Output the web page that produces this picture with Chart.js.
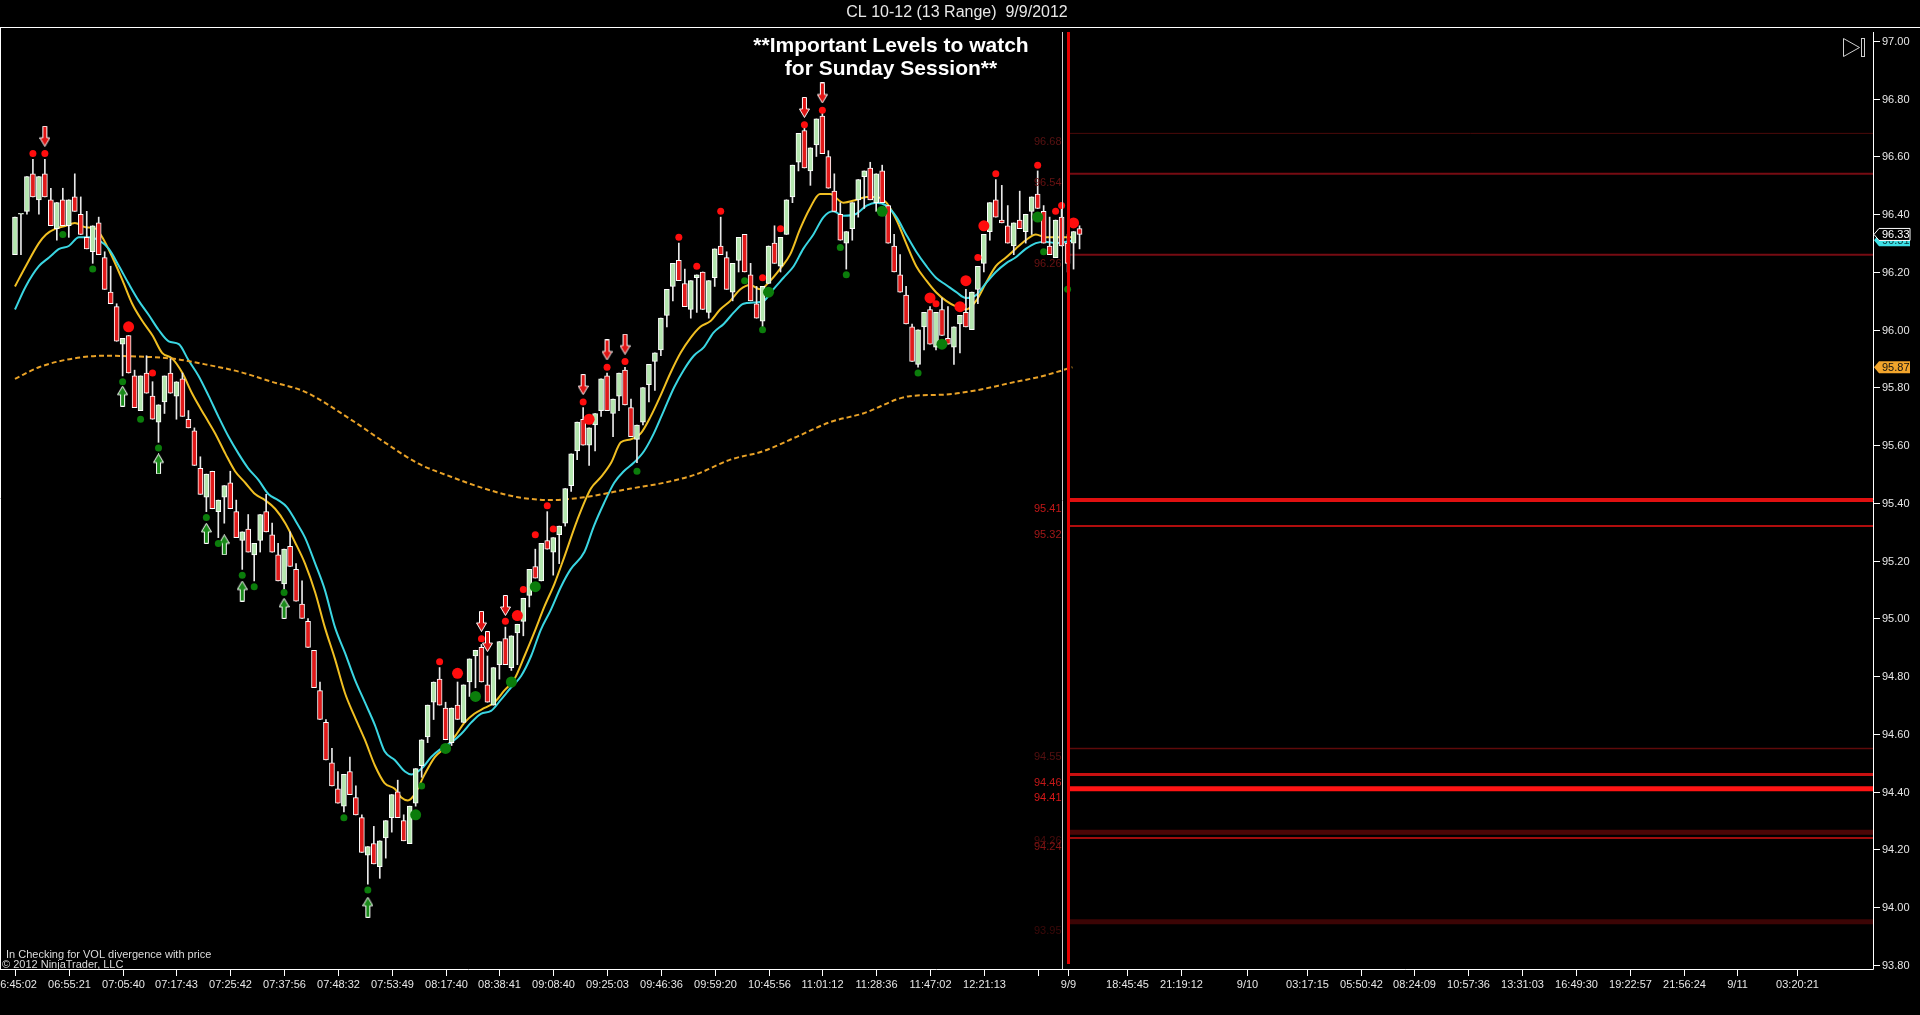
<!DOCTYPE html>
<html lang="en">
<head>
  <meta charset="UTF-8" />
  <title>CL 10-12 (13 Range) 9/9/2012</title>
  <script src="https://cdn.jsdelivr.net/npm/chart.js"></script>
  <style>
    html, body {
      margin: 0;
      padding: 0;
      background: #000;
      overflow: hidden;
    }
    canvas {
      display: block;
    }
  </style>
</head>
<body>
  <canvas id="rangeChart" width="1920" height="1015"></canvas>

  <script>
    // --- candles, one per 13-tick range bar (index = bar number) ---
    const opens = [96.26,96.40,96.41,96.54,96.45,96.54,96.45,96.35,96.45,96.36,
      96.46,96.40,96.32,96.27,96.37,96.25,96.13,96.08,95.95,95.98,
      95.84,95.72,95.85,95.77,95.68,95.75,95.85,95.77,95.83,95.69,
      95.65,95.52,95.42,95.51,95.37,95.42,95.47,95.37,95.27,95.31,
      95.22,95.27,95.37,95.29,95.22,95.12,95.25,95.17,95.05,94.99,
      94.89,94.75,94.64,94.50,94.41,94.35,94.47,94.38,94.31,94.18,
      94.22,94.14,94.24,94.31,94.40,94.30,94.22,94.36,94.49,94.59,
      94.71,94.79,94.69,94.57,94.70,94.64,94.78,94.87,94.90,94.77,
      94.70,94.84,94.93,94.83,94.95,94.99,95.08,95.18,95.13,95.27,
      95.23,95.29,95.33,95.46,95.58,95.69,95.60,95.67,95.72,95.84,
      95.71,95.77,95.86,95.73,95.62,95.68,95.81,95.89,95.93,96.05,
      96.15,96.24,96.16,96.07,96.18,96.20,96.06,96.18,96.29,96.25,
      96.13,96.24,96.33,96.19,96.09,96.03,96.16,96.30,96.22,96.33,
      96.46,96.58,96.69,96.55,96.64,96.74,96.60,96.48,96.40,96.30,
      96.35,96.45,96.53,96.56,96.44,96.55,96.43,96.29,96.19,96.12,
      96.01,95.88,96.01,96.07,95.94,96.07,95.97,95.94,96.02,96.06,
      96.00,96.14,96.23,96.34,96.45,96.38,96.36,96.29,96.38,96.34,
      96.41,96.47,96.41,96.29,96.25,96.39,96.30,96.30,96.35];
    const highs = [96.39,96.40,96.53,96.59,96.53,96.59,96.49,96.44,96.49,96.45,
      96.54,96.46,96.41,96.36,96.39,96.27,96.22,96.09,95.97,95.98,
      95.86,95.84,95.91,95.82,95.74,95.84,95.90,95.82,95.85,95.72,
      95.66,95.56,95.50,95.51,95.41,95.46,95.51,95.41,95.30,95.36,
      95.26,95.36,95.43,95.33,95.26,95.24,95.30,95.19,95.13,95.00,
      94.89,94.78,94.65,94.55,94.47,94.46,94.52,94.42,94.32,94.21,
      94.28,94.23,94.30,94.39,94.44,94.32,94.35,94.48,94.58,94.70,
      94.78,94.83,94.71,94.69,94.78,94.77,94.86,94.89,94.91,94.87,
      94.83,94.92,94.97,94.94,94.98,95.07,95.17,95.24,95.26,95.37,
      95.28,95.32,95.45,95.57,95.68,95.73,95.66,95.71,95.83,95.85,
      95.76,95.85,95.87,95.76,95.67,95.80,95.88,95.92,96.04,96.14,
      96.23,96.30,96.21,96.17,96.19,96.20,96.17,96.28,96.39,96.27,
      96.23,96.32,96.33,96.23,96.15,96.15,96.29,96.36,96.32,96.45,
      96.57,96.68,96.70,96.63,96.73,96.75,96.62,96.54,96.44,96.34,
      96.44,96.52,96.55,96.58,96.54,96.57,96.43,96.33,96.26,96.15,
      96.02,96.00,96.06,96.08,96.06,96.11,96.08,96.01,96.05,96.14,
      96.13,96.22,96.33,96.44,96.52,96.50,96.43,96.37,96.48,96.40,
      96.46,96.55,96.43,96.39,96.38,96.42,96.33,96.34,96.36];
    const lows = [96.26,96.26,96.40,96.46,96.40,96.46,96.36,96.31,96.36,96.32,
      96.41,96.33,96.28,96.23,96.26,96.14,96.09,95.96,95.84,95.85,
      95.73,95.72,95.78,95.69,95.61,95.71,95.78,95.69,95.70,95.66,
      95.53,95.43,95.37,95.38,95.28,95.33,95.38,95.28,95.17,95.23,
      95.13,95.23,95.30,95.23,95.13,95.10,95.18,95.06,95.00,94.90,
      94.76,94.65,94.51,94.42,94.36,94.33,94.39,94.32,94.19,94.08,
      94.15,94.10,94.17,94.26,94.31,94.23,94.22,94.35,94.45,94.57,
      94.65,94.70,94.58,94.56,94.65,94.64,94.73,94.76,94.78,94.71,
      94.70,94.79,94.84,94.82,94.84,94.94,95.04,95.14,95.13,95.24,
      95.15,95.19,95.32,95.44,95.55,95.60,95.53,95.58,95.70,95.72,
      95.63,95.72,95.74,95.63,95.54,95.67,95.75,95.79,95.91,96.01,
      96.10,96.17,96.08,96.04,96.06,96.07,96.04,96.15,96.26,96.14,
      96.10,96.20,96.20,96.10,96.04,96.01,96.16,96.23,96.20,96.33,
      96.44,96.55,96.56,96.50,96.60,96.61,96.49,96.41,96.31,96.21,
      96.31,96.39,96.42,96.45,96.41,96.44,96.30,96.20,96.13,96.02,
      95.89,95.87,95.93,95.95,95.93,95.98,95.95,95.88,95.92,96.01,
      96.00,96.09,96.20,96.31,96.39,96.37,96.30,96.26,96.35,96.30,
      96.33,96.42,96.30,96.26,96.25,96.29,96.20,96.21,96.28];
    const closes = [96.39,96.40,96.53,96.46,96.53,96.46,96.36,96.44,96.36,96.45,
      96.41,96.33,96.28,96.36,96.26,96.14,96.09,95.96,95.97,95.85,
      95.73,95.84,95.78,95.69,95.74,95.84,95.78,95.82,95.70,95.66,
      95.53,95.43,95.50,95.38,95.41,95.46,95.38,95.28,95.30,95.23,
      95.26,95.36,95.30,95.23,95.13,95.24,95.18,95.06,95.00,94.90,
      94.76,94.65,94.51,94.42,94.36,94.46,94.39,94.32,94.19,94.21,
      94.15,94.23,94.30,94.39,94.31,94.23,94.35,94.48,94.58,94.70,
      94.78,94.70,94.58,94.69,94.65,94.77,94.86,94.89,94.78,94.71,
      94.83,94.92,94.84,94.94,94.98,95.07,95.17,95.14,95.26,95.24,
      95.28,95.32,95.45,95.57,95.68,95.60,95.66,95.71,95.83,95.72,
      95.76,95.85,95.74,95.63,95.67,95.80,95.88,95.92,96.04,96.14,
      96.23,96.17,96.08,96.17,96.19,96.07,96.17,96.28,96.26,96.14,
      96.23,96.32,96.20,96.10,96.04,96.15,96.29,96.23,96.32,96.45,
      96.57,96.68,96.56,96.63,96.73,96.61,96.49,96.41,96.31,96.34,
      96.44,96.52,96.55,96.45,96.54,96.44,96.30,96.20,96.13,96.02,
      95.89,96.00,96.06,95.95,96.06,95.98,95.95,96.01,96.05,96.01,
      96.13,96.22,96.33,96.44,96.39,96.37,96.30,96.37,96.35,96.40,
      96.46,96.42,96.30,96.26,96.38,96.29,96.23,96.34,96.33];

    // --- moving averages, read as [bar, price] ---
    const fastMA = [[0,96.15],[1.8,96.22],[4,96.30],[5.2,96.33],[6.8,96.35],[8.5,96.36],[10,96.37],[11.8,96.355],
      [13.5,96.35],[14.6,96.32],[16.3,96.25],[18,96.17],[19.6,96.09],[21.3,96.03],[23,95.98],[24.6,95.92],
      [26.3,95.90],[28,95.85],[29.6,95.78],[31.8,95.70],[33.5,95.64],[35.2,95.57],[36.8,95.51],[38.5,95.47],
      [40.2,95.43],[41.8,95.41],[43.5,95.38],[45.2,95.33],[46.8,95.265],[48.5,95.19],[50.2,95.09],[51.8,94.97],
      [53.5,94.86],[55.2,94.74],[56.8,94.66],[58.5,94.58],[60.2,94.49],[61.8,94.43],[63.5,94.41],[64.6,94.38],
      [65.7,94.37],[66.8,94.39],[68.5,94.46],[70.2,94.52],[71.8,94.55],[73.5,94.59],[75.2,94.64],[76.8,94.67],
      [78.5,94.69],[80.2,94.71],[81.8,94.75],[83.5,94.79],[85.2,94.87],[86.8,94.95],[88.5,95.04],[90.2,95.12],
      [91.8,95.21],[94,95.34],[96.3,95.45],[98,95.49],[99.7,95.54],[101.3,95.61],[102.9,95.62],[104.6,95.64],
      [106.3,95.70],[107.9,95.77],[109.6,95.85],[111.3,95.92],[112.9,95.97],[114.6,96.01],[116.3,96.03],
      [117.9,96.07],[119.6,96.10],[121.3,96.14],[122.9,96.155],[124.6,96.14],[126.3,96.17],[127.9,96.21],
      [129.6,96.26],[131.3,96.35],[132.9,96.42],[134.6,96.47],[136.3,96.47],[138.5,96.44],[140.7,96.45],
      [142.4,96.46],[144,96.46],[145.7,96.44],[147.4,96.38],[149,96.30],[150.7,96.22],[152.4,96.17],[154,96.13],
      [155.7,96.10],[157.4,96.08],[159,96.07],[160.7,96.10],[162.3,96.16],[164,96.22],[165.7,96.25],
      [167.3,96.28],[169,96.31],[170.7,96.33],[172.3,96.32],[174,96.32],[177,96.32]];
    const slowMA = [[0,96.07],[1.8,96.15],[4,96.22],[5.7,96.25],[7.4,96.28],[9,96.29],[10.7,96.32],[12.4,96.32],
      [14,96.31],[15.7,96.28],[17.4,96.22],[19,96.16],[20.7,96.10],[22.4,96.05],[24,96.00],[25.7,95.96],
      [27.4,95.95],[29,95.895],[30.7,95.84],[32.4,95.77],[34,95.70],[35.7,95.63],[37.4,95.57],[39,95.52],
      [40.7,95.48],[42.4,95.43],[44,95.41],[45.5,95.385],[47,95.335],[48.5,95.28],[50.2,95.19],[51.8,95.10],
      [53.5,94.97],[55.2,94.88],[56.8,94.79],[58.5,94.71],[60.2,94.63],[61.8,94.54],[63.5,94.51],[65.2,94.47],
      [66.3,94.46],[68,94.48],[69.6,94.52],[71.3,94.55],[72.9,94.57],[74.6,94.60],[76.3,94.64],[77.9,94.67],
      [79.6,94.68],[81.3,94.72],[82.9,94.76],[84.6,94.80],[86.3,94.87],[87.9,94.96],[89.6,95.03],[91.3,95.11],
      [92.9,95.17],[95.2,95.23],[96.8,95.32],[98.5,95.40],[100.2,95.47],[101.8,95.51],[103.5,95.54],
      [105.2,95.58],[106.8,95.64],[108.5,95.72],[110.2,95.80],[111.8,95.86],[113.5,95.91],[115.2,95.94],
      [116.8,95.99],[118.5,96.02],[120.2,96.06],[121.8,96.09],[123.5,96.094],[125.2,96.10],[126.8,96.14],
      [128.5,96.18],[130.2,96.22],[131.8,96.28],[133.5,96.33],[135.2,96.39],[136.8,96.41],[138.5,96.395],
      [140.5,96.40],[142.4,96.43],[144,96.44],[145.7,96.43],[147.4,96.39],[149,96.33],[150.7,96.27],
      [152.4,96.22],[154,96.18],[155.7,96.155],[157.4,96.13],[159,96.11],[160.7,96.12],[162.3,96.16],
      [164,96.20],[165.7,96.23],[167.3,96.25],[169,96.28],[170.7,96.30],[172.3,96.305],[174,96.30],[177,96.31]];
    const longMA = [[0,95.83],[4,95.87],[9.6,95.90],[15.2,95.91],[20.7,95.907],[26.3,95.90],[31.8,95.88],
      [37.4,95.855],[42.9,95.82],[48.5,95.785],[56.3,95.687],[61.8,95.61],[67.4,95.537],[73,95.49],[78.5,95.45],
      [84.1,95.42],[89.6,95.41],[95.2,95.42],[103,95.45],[108.5,95.47],[114,95.50],[119.6,95.55],[125.2,95.58],
      [130.8,95.63],[136.3,95.68],[141.8,95.71],[149.6,95.77],[155.2,95.775],[160.7,95.79],[166.3,95.815],
      [171.9,95.84],[176.8,95.87]];

    // --- signal markers, [bar, price] ---
    const redDots = [[3,96.61],[5,96.61],[23,95.85],[71,94.85],[78,94.93],[82,94.99],[85,95.10],[87,95.29],
      [89,95.39],[90,95.31],[95,95.75],[99,95.87],[102,95.89],[111,96.32],[114,96.22],[118,96.41],[125,96.18],
      [128,96.35],[132,96.71],[135,96.76],[154,96.09],[161,96.25],[164,96.54],[171,96.57],[174,96.41],[175,96.43]];
    const bigRedDots = [[19,96.01],[74,94.81],[84,95.01],[96,95.69],[153,96.11],[158,96.08],[159,96.17],
      [162,96.36],[177,96.37]];
    const greenDots = [[8,96.33],[13,96.21],[18,95.82],[21,95.69],[24,95.59],[32,95.35],[34,95.26],[38,95.15],
      [40,95.11],[45,95.09],[55,94.31],[59,94.06],[68,94.42],[104,95.51],[122,96.17],[125,96.00],[138,96.285],
      [139,96.19],[151,95.85],[172,96.27],[176,96.14]];
    const bigGreenDots = [[67,94.32],[72,94.55],[77,94.73],[83,94.78],[87,95.11],[126,96.13],[145,96.41],
      [155,95.95],[171,96.39]];
    const downArrows = [[5,96.67],[78,94.99],[79,94.92],[82,95.045],[95,95.81],[99,95.93],[102,95.95],
      [132,96.77],[135,96.82]];
    const upArrows = [[18,95.77],[24,95.535],[32,95.295],[35,95.255],[38,95.095],[45,95.035],[59,94.0]];

    // --- levels for the Sunday session ---
    const levelPrices = [96.68, 96.54, 96.26, 95.41, 95.32, 94.55, 94.46, 94.41, 94.26, 94.24, 93.95];
    const levelStyles = [
      { line: '#4a0a0a', width: 1, text: '#5a1212' },
      { line: '#760b12', width: 2, text: '#6a1212' },
      { line: '#760b12', width: 2, text: '#6a1212' },
      { line: '#e01010', width: 4, text: '#c41818' },
      { line: '#b00d0d', width: 2, text: '#a31818' },
      { line: '#5e0a0a', width: 1.5, text: '#561010' },
      { line: '#c81010', width: 3, text: '#c41818' },
      { line: '#ff1414', width: 5, text: '#d81818' },
      { line: '#4a0606', width: 5, text: '#4a0c0c' },
      { line: '#a00c0c', width: 2, text: '#861414' },
      { line: '#3c0505', width: 5, text: '#3c0909' }
    ];
    const sessionEndBar = 175;
    const levelStartBar = 176;

    // --- axes ---
    const xTickBars = [0, 9, 18, 27, 36, 45, 54, 63, 72, 81, 90, 99, 108, 117, 126, 135, 144, 153, 162, 171,
      176, 186, 195, 206, 216, 225, 234, 243, 252, 261, 270, 279, 288, 298];
    const xTickLabels = ['06:45:02', '06:55:21', '07:05:40', '07:17:43', '07:25:42', '07:37:56', '07:48:32',
      '07:53:49', '08:17:40', '08:38:41', '09:08:40', '09:25:03', '09:46:36', '09:59:20', '10:45:56', '11:01:12',
      '11:28:36', '11:47:02', '12:21:13', '', '9/9', '18:45:45', '21:19:12', '9/10', '03:17:15', '05:50:42',
      '08:24:09', '10:57:36', '13:31:03', '16:49:30', '19:22:57', '21:56:24', '9/11', '03:20:21'];
    const yTickLabels = ['97.00', '96.80', '96.60', '96.40', '96.20', '96.00', '95.80', '95.60', '95.40',
      '95.20', '95.00', '94.80', '94.60', '94.40', '94.20', '94.00', '93.80'];

    const FONT = '"Liberation Sans", Arial, sans-serif';
    const UP_FILL = '#b4e6ae';
    const DOWN_FILL = '#e11a1a';

    function arrowSprite(pointDown, fill) {
      const c = document.createElement('canvas');
      c.width = 11;
      c.height = 21;
      const g = c.getContext('2d');
      g.save();
      if (!pointDown) {
        g.translate(0, 21);
        g.scale(1, -1);
      }
      g.beginPath();
      g.moveTo(3.5, 0.5);
      g.lineTo(7.5, 0.5);
      g.lineTo(7.5, 12);
      g.lineTo(10.5, 12);
      g.lineTo(5.5, 20.5);
      g.lineTo(0.5, 12);
      g.lineTo(3.5, 12);
      g.closePath();
      g.fillStyle = fill;
      g.fill();
      g.lineWidth = 1;
      g.strokeStyle = '#ffffff';
      g.stroke();
      g.restore();
      return c;
    }

    const toXY = pairs => pairs.map(p => ({ x: p[0], y: p[1] }));
    const bars = opens.map((o, i) => i);
    const isUp = bars.map(i => closes[i] >= opens[i]);

    const levelDatasets = levelPrices.map((p, k) => ({
      type: 'line',
      data: [{ x: levelStartBar, y: p }, { x: 320, y: p }],
      borderColor: levelStyles[k].line,
      borderWidth: levelStyles[k].width,
      pointRadius: 0,
      order: 9
    }));

    function dotSet(pairs, color, radius) {
      return {
        type: 'scatter',
        data: toXY(pairs),
        backgroundColor: color,
        borderWidth: 0,
        pointRadius: radius,
        order: 0
      };
    }

    function maSet(pairs, color, dash) {
      return {
        type: 'line',
        data: toXY(pairs),
        borderColor: color,
        borderWidth: 2,
        borderDash: dash,
        cubicInterpolationMode: 'monotone',
        pointRadius: 0,
        order: 5
      };
    }

    function lastOf(pairs) {
      return pairs[pairs.length - 1][1];
    }

    function priceTag(ctx, y, text, fill, stroke, color) {
      ctx.beginPath();
      ctx.moveTo(1874, y);
      ctx.lineTo(1879, y - 6);
      ctx.lineTo(1910, y - 6);
      ctx.lineTo(1910, y + 6);
      ctx.lineTo(1879, y + 6);
      ctx.closePath();
      ctx.fillStyle = fill;
      ctx.fill();
      if (stroke) {
        ctx.strokeStyle = stroke;
        ctx.lineWidth = 1;
        ctx.stroke();
      }
      ctx.fillStyle = color;
      ctx.textAlign = 'left';
      ctx.fillText(text, 1882, y + 0.5);
    }

    const chartChrome = {
      id: 'chartChrome',
      beforeDraw(chart) {
        const ctx = chart.ctx;
        ctx.save();
        ctx.fillStyle = '#000';
        ctx.fillRect(0, 0, chart.width, chart.height);
        ctx.restore();
      },
      afterDatasetsDraw(chart) {
        const { ctx, scales: { x, y }, chartArea } = chart;
        ctx.save();
        // end-of-session markers
        const xw = Math.round(x.getPixelForValue(sessionEndBar)) + 0.5;
        ctx.strokeStyle = '#cfcfcf';
        ctx.lineWidth = 1;
        ctx.beginPath();
        ctx.moveTo(xw, 32);
        ctx.lineTo(xw, chartArea.bottom);
        ctx.stroke();
        const xr = Math.round(x.getPixelForValue(levelStartBar)) + 0.5;
        ctx.strokeStyle = '#e60000';
        ctx.lineWidth = 3;
        ctx.beginPath();
        ctx.moveTo(xr, 32);
        ctx.lineTo(xr, chartArea.bottom - 5);
        ctx.stroke();

        // level captions
        ctx.font = '11px ' + FONT;
        ctx.textAlign = 'right';
        ctx.textBaseline = 'middle';
        levelPrices.forEach((p, k) => {
          ctx.fillStyle = levelStyles[k].text;
          ctx.fillText(p.toFixed(2), xw - 1, y.getPixelForValue(p) + 9);
        });
        ctx.restore();
      },
      afterDraw(chart) {
        const { ctx, scales: { x, y }, chartArea } = chart;
        ctx.save();

        // frame
        ctx.strokeStyle = '#ffffff';
        ctx.lineWidth = 1;
        ctx.beginPath();
        ctx.moveTo(0, 27.5);
        ctx.lineTo(chart.width, 27.5);
        ctx.moveTo(0.5, 27.5);
        ctx.lineTo(0.5, chartArea.bottom + 0.5);
        ctx.moveTo(0, chartArea.bottom + 0.5);
        ctx.lineTo(chartArea.right + 0.5, chartArea.bottom + 0.5);
        ctx.lineTo(chartArea.right + 0.5, 32);
        ctx.stroke();

        // title bar
        ctx.fillStyle = '#e8e8e8';
        ctx.font = '16px ' + FONT;
        ctx.textAlign = 'center';
        ctx.textBaseline = 'middle';
        ctx.fillText('CL 10-12 (13 Range)  9/9/2012', 957, 13);

        // note
        ctx.fillStyle = '#ffffff';
        ctx.font = 'bold 21px ' + FONT;
        ctx.fillText('**Important Levels to watch', 891, 46);
        ctx.fillText('for Sunday Session**', 891, 69);

        // x ticks
        ctx.font = '11px ' + FONT;
        ctx.fillStyle = '#e6e6e6';
        ctx.strokeStyle = '#ffffff';
        xTickBars.forEach((b, k) => {
          const px = Math.round(x.getPixelForValue(b)) + 0.5;
          ctx.beginPath();
          ctx.moveTo(px, chartArea.bottom);
          ctx.lineTo(px, chartArea.bottom + 7);
          ctx.stroke();
          if (xTickLabels[k]) ctx.fillText(xTickLabels[k], px, chartArea.bottom + 16);
        });

        // y ticks
        ctx.textAlign = 'left';
        yTickLabels.forEach(t => {
          const py = Math.round(y.getPixelForValue(parseFloat(t))) + 0.5;
          ctx.beginPath();
          ctx.moveTo(chartArea.right, py);
          ctx.lineTo(chartArea.right + 7, py);
          ctx.stroke();
          ctx.fillText(t, chartArea.right + 9, py);
        });

        // current value tags
        priceTag(ctx, y.getPixelForValue(lastOf(longMA)), lastOf(longMA).toFixed(2), '#f2a52c', null, '#111');
        priceTag(ctx, y.getPixelForValue(lastOf(slowMA)), lastOf(slowMA).toFixed(2), '#3fe0e6', null, '#0a3a40');
        const lastClose = closes[closes.length - 1];
        priceTag(ctx, y.getPixelForValue(lastClose), lastClose.toFixed(2), '#000', '#ffffff', '#ffffff');

        // scroll-to-end button
        ctx.strokeStyle = '#d0d0d0';
        ctx.beginPath();
        ctx.moveTo(1843.5, 38.5);
        ctx.lineTo(1859.5, 47.5);
        ctx.lineTo(1843.5, 56.5);
        ctx.closePath();
        ctx.stroke();
        ctx.strokeRect(1861.5, 38.5, 3, 18);

        // footer notes
        ctx.fillStyle = '#dcdcdc';
        ctx.font = '11px ' + FONT;
        ctx.textAlign = 'left';
        ctx.fillText('In Checking for VOL divergence with price', 6, 955);
        ctx.fillText('\u00a9 2012 NinjaTrader, LLC', 2, 965);

        ctx.restore();
      }
    };

    new Chart(document.getElementById('rangeChart'), {
      type: 'bar',
      data: {
        datasets: [
          dotSet(redDots, '#ff0d0d', 3.5),
          dotSet(bigRedDots, '#ff0d0d', 5.5),
          dotSet(greenDots, '#0b7d0b', 3.5),
          dotSet(bigGreenDots, '#0b7d0b', 5.5),
          {
            type: 'scatter',
            data: toXY(downArrows),
            pointStyle: arrowSprite(true, '#e01414'),
            pointRadius: 5,
            order: 0
          },
          {
            type: 'scatter',
            data: toXY(upArrows),
            pointStyle: arrowSprite(false, '#1a8a1a'),
            pointRadius: 5,
            order: 0
          },
          {
            label: 'body',
            data: bars.map(i => ({ x: i, y: [opens[i], closes[i]] })),
            backgroundColor: bars.map(i => isUp[i] ? UP_FILL : DOWN_FILL),
            borderColor: '#ffffff',
            borderWidth: 1,
            borderSkipped: false,
            barThickness: 5,
            minBarLength: 1,
            grouped: false,
            order: 2
          },
          {
            label: 'wick',
            data: bars.map(i => ({ x: i, y: [lows[i], highs[i]] })),
            backgroundColor: '#e8e8e8',
            borderWidth: 0,
            barThickness: 1,
            grouped: false,
            order: 3
          },
          maSet(longMA, '#e9a227', [5, 3]),
          maSet(slowMA, '#3ad6e2', []),
          maSet(fastMA, '#f0bf22', []),
          ...levelDatasets
        ]
      },
      options: {
        responsive: false,
        animation: false,
        events: [],
        devicePixelRatio: 1,
        layout: { padding: { left: 0, right: 47, top: 28, bottom: 46 } },
        plugins: {
          legend: { display: false },
          tooltip: { enabled: false }
        },
        scales: {
          x: {
            type: 'linear',
            display: false,
            offset: false,
            min: -1.5,
            max: 310.67,
            grid: { display: false }
          },
          y: {
            type: 'linear',
            display: false,
            min: 93.786,
            max: 97.045,
            grid: { display: false }
          }
        }
      },
      plugins: [chartChrome]
    });
  </script>
</body>
</html>
